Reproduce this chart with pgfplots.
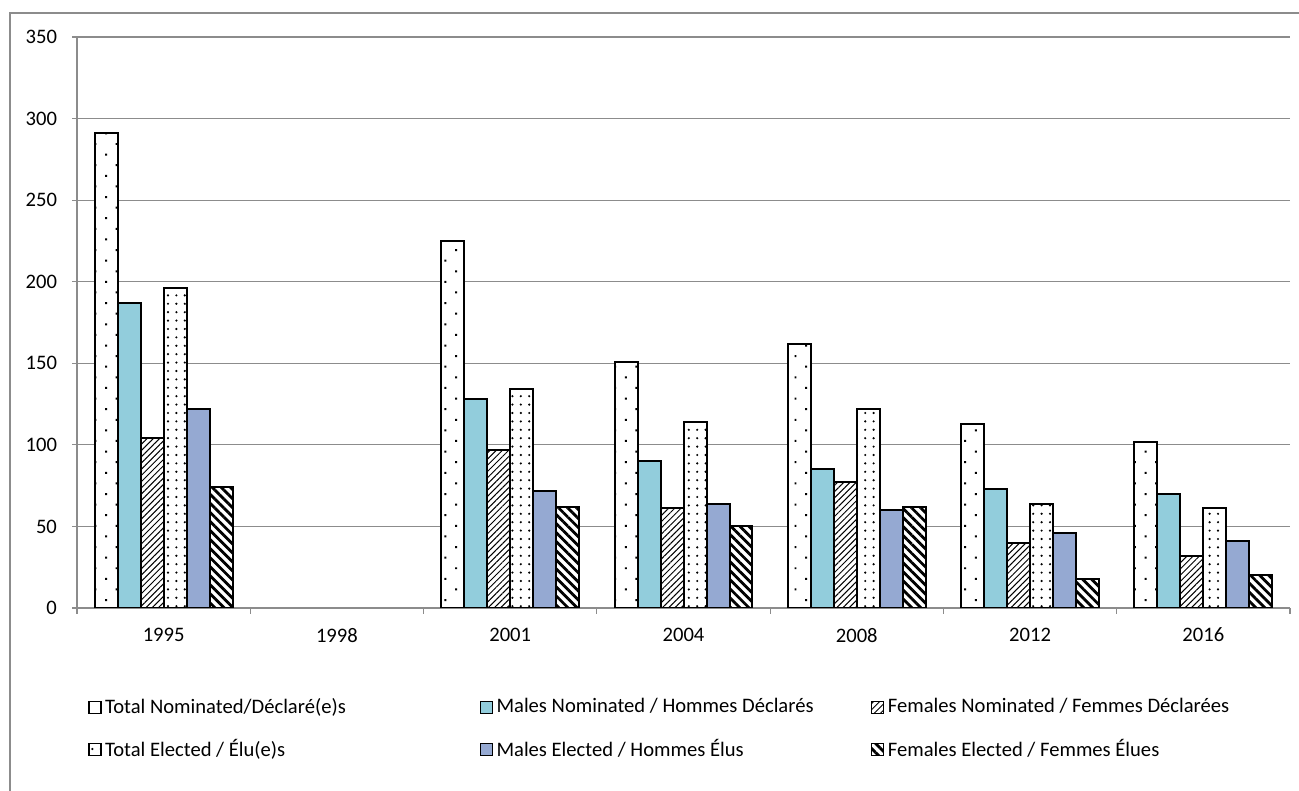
\documentclass[border=0pt]{standalone}
\usepackage{pgfplots}
\pgfplotsset{compat=1.18}
\usepackage{pgfplotstable}
\usepackage{fontspec}
\setmainfont{Carlito}
\usetikzlibrary{patterns.meta}

\definecolor{malenom}{HTML}{92CDDC}
\definecolor{maleel}{HTML}{95A9D2}
\definecolor{gridgray}{HTML}{8C8C8C}

% 1998: no data
\pgfplotstableread{
x   TN  MN  FN  TE  ME  FE
0   291 187 104 196 122 74
2   225 128 97  134 72  62
3   151 90  61  114 64  50
4   162 85  77  122 60  62
5   113 73  40  64  46  18
6   102 70  32  61  41  20
}\votes

\begin{document}
\begin{tikzpicture}
\useasboundingbox (0pt,0pt) rectangle (649.5pt,395.5pt);
\draw[gridgray, line width=0.6pt] (5pt,-10pt) rectangle (660pt,389pt);
\begin{axis}[
  at={(38.5pt,91.5pt)}, anchor=south west,
  scale only axis, width=606.5pt, height=285.5pt,
  ybar=0pt, bar width=0.1327,
  xmin=-0.5, xmax=6.5, ymin=0, ymax=350,
  ytick={0,50,...,350},
  xtick={0,...,6}, xticklabels={1995,1998,2001,2004,2008,2012,2016},
  minor xtick={-0.5,0.5,...,6.5},
  major x tick style={draw=none},
  tick align=outside,
  major tick length=2.5pt, minor tick length=3pt,
  axis x line*=bottom, axis y line*=left,
  axis line style={gridgray, line width=0.6pt},
  every tick/.style={gridgray, line width=0.6pt},
  ymajorgrids, grid style={gridgray, line width=0.6pt},
  xticklabel style={yshift=-4pt},
  yticklabel style={xshift=-4pt},
  /pgf/number format/assume math mode=true,
  tick label style={font=\fontsize{10.3}{12}\selectfont},
  legend columns=3,
  legend cell align=left,
  legend style={draw=none, at={(0.009,-0.151)}, anchor=north west,
    inner sep=0pt, column sep=0pt, row sep=8pt,
    nodes={inner sep=1.8pt},
    font=\fontsize{10.3}{12}\selectfont},
  legend image code/.code={\draw[#1,line width=0.6pt] (0pt,-3pt) rectangle (6pt,3pt);},
]
\addplot[fill=white, draw=black, line width=1pt,
  postaction={pattern={Dots[angle=45,distance=7.5pt,radius=0.7pt]}}]
  table[x=x,y=TN]{\votes};
\addlegendentry{\makebox[185.5pt][l]{Total Nominated/Déclaré(e)s}}
\addplot[fill=malenom, draw=black, line width=1pt]
  table[x=x,y=MN]{\votes};
\addlegendentry{\makebox[185.5pt][l]{Males Nominated / Hommes Déclarés}}
\addplot[fill=white, draw=black, line width=1pt,
  postaction={pattern={Lines[angle=45,distance=2.2pt,line width=0.5pt]}}]
  table[x=x,y=FN]{\votes};
\addlegendentry{\makebox[185.5pt][l]{Females Nominated / Femmes Déclarées}}
\addplot[fill=white, draw=black, line width=1pt,
  postaction={pattern={Dots[distance=4.2pt,radius=0.6pt]}}]
  table[x=x,y=TE]{\votes};
\addlegendentry{\makebox[185.5pt][l]{Total Elected / Élu(e)s}}
\addplot[fill=maleel, draw=black, line width=1pt]
  table[x=x,y=ME]{\votes};
\addlegendentry{\makebox[185.5pt][l]{Males Elected / Hommes Élus}}
\addplot[fill=white, draw=black, line width=1pt,
  postaction={pattern={Lines[angle=-45,distance=3.2pt,line width=1.4pt]}}]
  table[x=x,y=FE]{\votes};
\addlegendentry{\makebox[185.5pt][l]{Females Elected / Femmes Élues}}
\end{axis}
\end{tikzpicture}
\end{document}
